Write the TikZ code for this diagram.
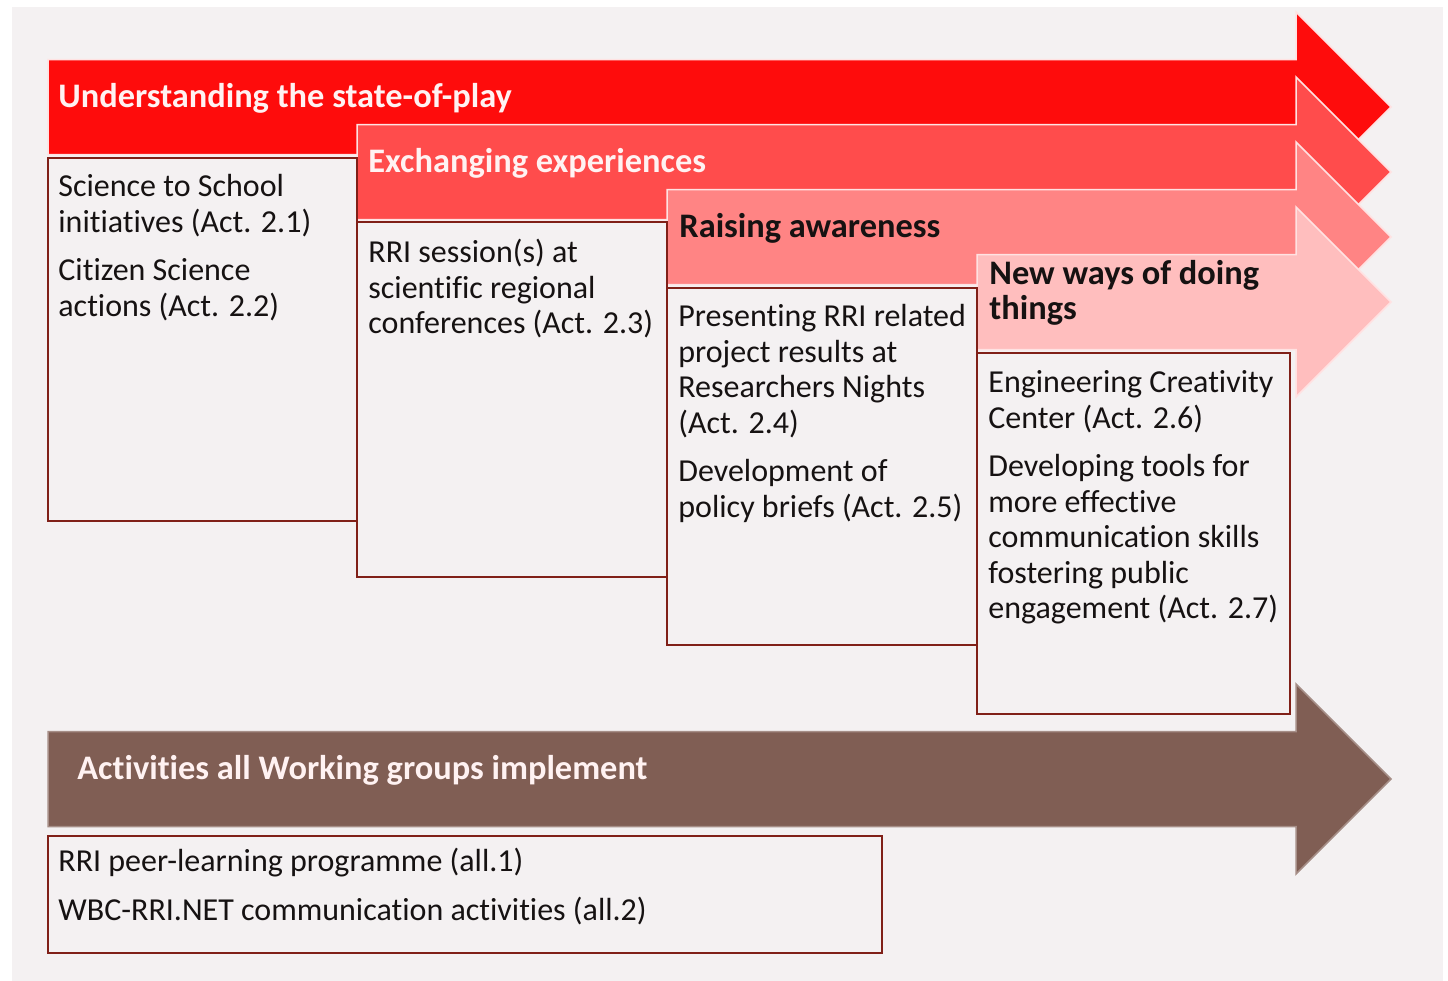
\documentclass[tikz,border=0pt]{standalone}
\usepackage{fontspec}
\setmainfont{Carlito}[Ligatures=NoCommon]
\usepackage{xcolor}
\usepackage{tikz}

\definecolor{panel}{RGB}{244,241,242}
\definecolor{stageA}{RGB}{254,12,12}
\definecolor{stageB}{RGB}{255,76,76}
\definecolor{stageC}{RGB}{255,132,132}
\definecolor{stageD}{RGB}{255,190,190}
\definecolor{groupbar}{RGB}{128,94,84}
\definecolor{boxline}{RGB}{128,32,24}
\definecolor{edge}{RGB}{255,226,226}
\definecolor{ink}{RGB}{22,18,18}
\definecolor{paleink}{RGB}{255,242,242}

\begin{document}
\begin{tikzpicture}[x=0.5pt,y=-0.5pt,
	banner/.style={anchor=north west,inner sep=0pt,align=left,font=\fontsize{17.2}{17.5}\selectfont\bfseries,execute at begin node=\strut},
	actbox/.style={draw=boxline,line width=1pt},
	acttext/.style={anchor=north west,inner sep=0pt,align=left,text=ink,font=\fontsize{16}{17.75}\selectfont,execute at begin node=\strut}]
	\useasboundingbox (0,0) rectangle (1448,981);
	\fill[white] (0,0) rectangle (1448,981);
	\fill[panel] (12,7) rectangle (1443,981);

	% the four stage arrows, each one laid over the one before
	\foreach \xs/\c/\col in {48/107/stageA, 357/172/stageB, 667/237/stageC, 977/302/stageD}
	  \filldraw[fill=\col,draw=edge,line width=0.75pt] (\xs,\c-47.5) -- (1296,\c-47.5) -- (1296,\c-95)
	    -- (1391,\c) -- (1296,\c+95) -- (1296,\c+47.5) -- (\xs,\c+47.5) -- cycle;
	% strut tops sit 24.5 above the first baseline
	\node[banner,text=paleink]	(hdA) at (58,82.5)	{Understanding the state-of-play};
	\node[banner,text=paleink]	(hdB) at (368,147.5)	{Exchanging experiences};
	\node[banner,text=ink]		(hdC) at (679,212.5)	{Raising awareness};
	\node[banner,text=ink]		(hdD) at (989,260)	{New ways of doing\\things};

	% activity boxes under each stage (text strut tops 24.9 above baseline)
	\draw[actbox] (48,158) rectangle (357,521);
	\draw[actbox] (357,222) rectangle (667,577);
	\draw[actbox] (667,288) rectangle (977,645);
	\draw[actbox] (977,353) rectangle (1290,714);
	\node[acttext] (actA) at (58,174.1)	{Science to School\\initiatives (Act. 2.1)\\[6.5pt]Citizen Science\\actions (Act. 2.2)};
	\node[acttext] (actB) at (368,239.1)	{RRI session(s) at\\scientific regional\\conferences (Act. 2.3)};
	\node[acttext] (actC) at (678,304.1)	{Presenting RRI related\\project results at\\Researchers Nights\\(Act. 2.4)\\[6.5pt]Development of\\policy briefs (Act. 2.5)};
	\node[acttext] (actD) at (988,370.1)	{Engineering Creativity\\Center (Act. 2.6)\\[6.5pt]Developing tools for\\more effective\\communication skills\\fostering public\\engagement (Act. 2.7)};

	% common activities
	\filldraw[fill=groupbar,draw=groupbar!70!white,line width=0.75pt] (48,731.5) -- (1296,731.5) -- (1296,684)
	  -- (1391,779) -- (1296,874) -- (1296,826.5) -- (48,826.5) -- cycle;
	\node[banner,text=paleink] (hdAll) at (77,754.5) {Activities all Working groups implement};
	\draw[actbox] (48,836) rectangle (882,953);
	\node[acttext] (actAll) at (58,848.1) {RRI peer-learning programme (all.1)\\[6.5pt]WBC-RRI.NET communication activities (all.2)};
\end{tikzpicture}
\end{document}
